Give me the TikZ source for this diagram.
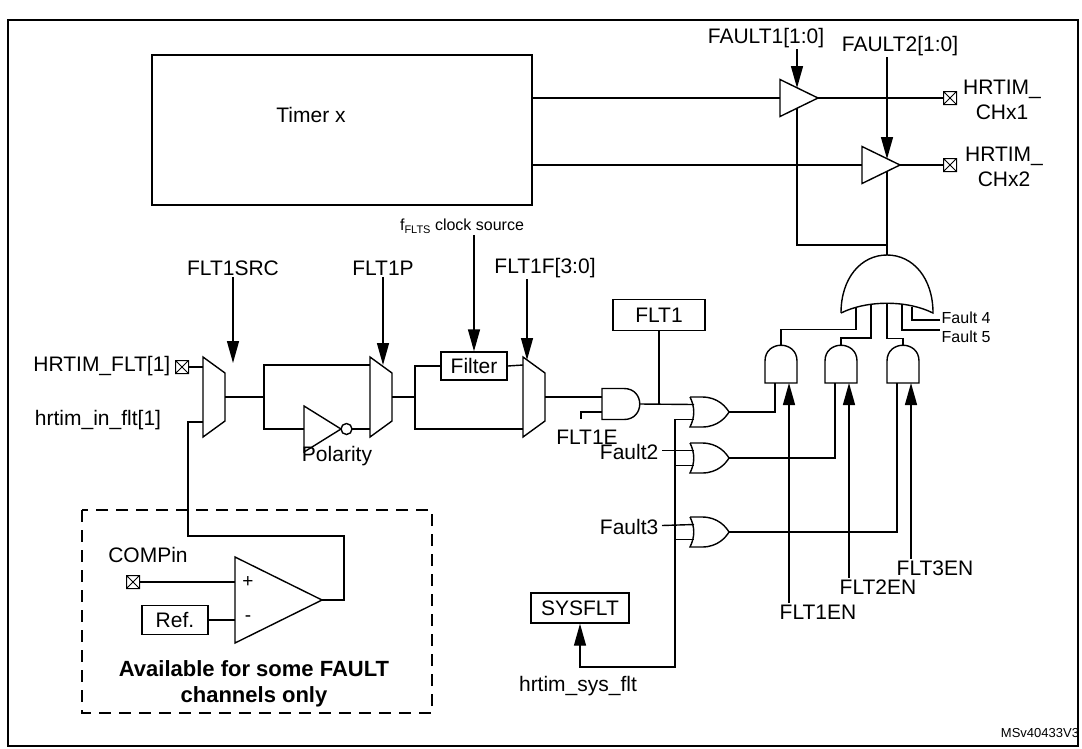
\documentclass[tikz,border=0pt]{standalone}
\usepackage{fontspec}
\setmainfont{Liberation Sans}
\usetikzlibrary{positioning,arrows.meta}

\tikzset{
    sel/.style={-{Triangle[length=22pt,width=12pt]}},
    lbl/.style={inner sep=1pt},
    small/.style={font=\fontsize{16}{18}\selectfont},
    regbox/.style={draw, inner sep=0pt},
    buf/.pic={\draw (0,-18.5) -- (38,0) -- (0,18.5) -- cycle;
        \coordinate (-i) at (0,0); \coordinate (-o) at (38,0);},
    andup/.pic={\draw (-16,0) -- (-16,-22) .. controls (-16,-43) and (16,-43) .. (16,-22) -- (16,0) -- cycle;
        \coordinate (-a) at (-6,0); \coordinate (-b) at (8,0); \coordinate (-o) at (0,-38);},
    andright/.pic={\draw (0,-15.5) -- (22,-15.5) .. controls (43,-15.5) and (43,15.5) .. (22,15.5) -- (0,15.5) -- cycle;
        \coordinate (-a) at (0,-7); \coordinate (-b) at (0,8); \coordinate (-o) at (38,0);},
    orright/.pic={\draw (0,-15) -- (12,-15) .. controls (28,-15) and (36,-5) .. (39,0)
        .. controls (36,5) and (28,15) .. (12,15) -- (0,15) .. controls (5,5) and (5,-5) .. (0,-15);
        \coordinate (-a) at (4,-7.5); \coordinate (-b) at (4,7.5); \coordinate (-o) at (39,0);},
    bigor/.pic={\draw (-46,3) .. controls (-46,-32) and (-26,-55) .. (0,-55)
        .. controls (26,-55) and (46,-32) .. (46,3) .. controls (20,-10) and (-20,-10) .. (-46,3);
        \coordinate (-i1) at (-31,-2.5); \coordinate (-i2) at (-16,-5.5); \coordinate (-i3) at (0,-6.7);
        \coordinate (-i4) at (15,-5.5); \coordinate (-i5) at (25,-3.5); \coordinate (-o) at (0,-55);},
    mux/.pic={\draw (0,0) -- (22,16) -- (22,64) -- (0,80) -- cycle;
        \coordinate (-t) at (0,8); \coordinate (-b) at (0,72); \coordinate (-o) at (22,40);},
    inv/.pic={\draw (0,-23) -- (37,0) -- (0,23) -- cycle; \draw (42.5,0) circle (5.5);
        \coordinate (-i) at (0,0); \coordinate (-o) at (48,0);},
    opamp/.pic={\draw (0,0) -- (87,43) -- (0,86) -- cycle;
        \node[font=\fontsize{19}{19}\selectfont] at (13,25) {+};
        \node[font=\fontsize{19}{19}\selectfont] at (13,62) {-};
        \coordinate (-p) at (0,25); \coordinate (-m) at (0,63); \coordinate (-o) at (87,43);},
    pin/.pic={\draw[line width=1pt] (-6.5,-6.5) rectangle (6.5,6.5) (-6.5,-6.5) -- (6.5,6.5) (-6.5,6.5) -- (6.5,-6.5);
        \coordinate (-w) at (-6.5,0); \coordinate (-e) at (6.5,0);}
}

\begin{document}
\begin{tikzpicture}[x=1pt, y=-1pt, line width=1.4pt, font=\fontsize{21}{25}\selectfont]
    \useasboundingbox (0,0) rectangle (1082,748);
    \draw (8,20) rectangle (1078,746);

    %Timer and outputs
    \node[regbox, minimum width=380, minimum height=150] (tmr) at (342,130) {};
    \node at (311,115) {Timer x};
    \coordinate (t1) at (532,98);
    \coordinate (t2) at (532,165);
    \pic (b1) at (780,98) {buf};
    \pic (b2) at (862,165) {buf};
    \pic (p1) at (950,98) {pin};
    \pic (p2) at (950,165) {pin};
    \draw (t1) -- (b1-i) (b1-o) -- (p1-w);
    \draw (t2) -- (b2-i) (b2-o) -- (p2-w);
    \node[align=center, lbl] (ch1) at (1002,100) {HRTIM\_\\CHx1};
    \node[align=center, lbl] (ch2) at (1004,167) {HRTIM\_\\CHx2};
    \node[lbl] (f1) at (766,38) {FAULT1[1:0]};
    \node[lbl] (f2) at (900,46) {FAULT2[1:0]};
    \draw[sel] (f1.south -| 797,0) -- (797,88);
    \draw[sel] (f2.south -| 887,0) -- (887,159);
    \draw (797,108) |- (887,245);
    \pic (bor) at (887,310) {bigor};
    \draw (887,171) -- (bor-o);

    %AND / OR network
    \pic (a1) at (781,383) {andup};
    \pic (a2) at (841,383) {andup};
    \pic (a3) at (903,383) {andup};
    \node[lbl, small, anchor=west] (flt4) at (940,318) {Fault 4};
    \node[lbl, small, anchor=west] (flt5) at (940,337) {Fault 5};
    \draw (bor-i1) -- ++(0,22) -| (a1-o);
    \draw (bor-i2) -- ++(0,33.5) -| (a2-o);
    \draw (bor-i3) -- ++(0,35) -| (a3-o);
    \draw (bor-i4) |- (940,330);
    \draw (bor-i5) |- (940,320);
    \pic (or1) at (690,412) {orright};
    \pic (or2) at (690,458) {orright};
    \pic (or3) at (690,532) {orright};
    \draw (or1-o) -| (a1-a);
    \draw (or2-o) -| (a2-a);
    \draw (or3-o) -| (a3-a);
    \node[lbl] (en1) at (818,612) {FLT1EN};
    \node[lbl] (en2) at (878,587) {FLT2EN};
    \node[lbl] (en3) at (935,568) {FLT3EN};
    \draw[sel] (a1-b |- en1.north) -- (a1-b);
    \draw[sel] (a2-b |- en2.north) -- (a2-b);
    \draw[sel] (a3-b |- en3.north) -- (a3-b);
    \node[lbl, anchor=east] (fl2) at (660,452) {Fault2};
    \node[lbl, anchor=east] (fl3) at (660,527) {Fault3};
    \draw (fl2.east) ++(2,-1.5) -- (or2-a);
    \draw (fl3.east) ++(2,-1.5) -- (or3-a);
    \node[regbox, minimum width=98, minimum height=30] (sys) at (580,608) {SYSFLT};
    \node[lbl] (sysin) at (578,686) {hrtim\_sys\_flt};
    \draw[sel] (or1-b) -| (675,667) -| (sys.south);
    \draw (675,465.5) -- (or2-b) (675,539.5) -- (or3-b);

    %FLT1 path
    \pic (ae) at (602,404) {andright};
    \node[regbox, minimum width=92, minimum height=31] (flt) at (659,315) {FLT1};
    \node[lbl] (fe) at (587,437) {FLT1E};
    \draw (581,419) |- (ae-b);
    \draw (ae-o) -- (or1-a);
    \draw (flt.south) -- (flt.south |- ae-o);
    \pic (m1) at (203,357) {mux};
    \pic (m2) at (370,357) {mux};
    \pic (m3) at (523,357) {mux};
    \pic (ph) at (182,367) {pin};
    \node[lbl, anchor=east] (hin) at (172,366) {HRTIM\_FLT[1]};
    \node[lbl] (hint) at (98,420) {hrtim\_in\_flt[1]};
    \draw (ph-e) -- (203,367);
    \pic (iv) at (304,429) {inv};
    \node[lbl] (pol) at (337,456) {Polarity};
    \draw (m1-o) -- (264,397) |- (m2-t);
    \draw (264,397) |- (iv-i);
    \draw (iv-o) -- (m2-b);
    \node[regbox, minimum width=66, minimum height=28] (fil) at (474,366) {Filter};
    \draw (m2-o) -- (415,397) |- (fil.west);
    \draw (fil.east) -- (m3-t);
    \draw (415,397) |- (m3-b);
    \draw (m3-o) -- (ae-a);
    \node[lbl] (s1) at (233,268) {FLT1SRC};
    \node[lbl] (s2) at (383,268) {FLT1P};
    \node[lbl] (s3) at (545,268) {FLT1F[3:0]};
    \node[lbl, font=\fontsize{16}{18}\selectfont] (clk) at (462,226)
        {f\raisebox{-2.5pt}{\fontsize{11}{11}\selectfont FLTS} clock source};
    \draw[sel] (s1.south) -- (233,363);
    \draw[sel] (s2.south) -- (383,365);
    \draw[sel] (s3.south -| 527,0) -- (527,360);
    \draw[sel] (fil.north |- clk.south) -- (fil.north);

    %Comparator
    \draw[dash pattern=on 12pt off 8pt] (82,510) rectangle (432,713);
    \pic (op) at (235,557) {opamp};
    \pic (pc) at (133,582) {pin};
    \node[lbl] (cin) at (148,555) {COMPin};
    \node[regbox, minimum width=66, minimum height=29] (ref) at (175,620) {Ref.};
    \draw (pc-e) -- (op-p);
    \draw (ref.east) -- (op-m);
    \draw (op-o) -| (344,536) -| (188,422) -- (m1-b |- 0,422);
    \node[align=center, font=\fontsize{22}{26}\selectfont\bfseries] at (254,684)
        {Available for some FAULT\\channels only};

    \node[font=\fontsize{13}{15}\selectfont] at (1040,733) {MSv40433V3};
\end{tikzpicture}
\end{document}
